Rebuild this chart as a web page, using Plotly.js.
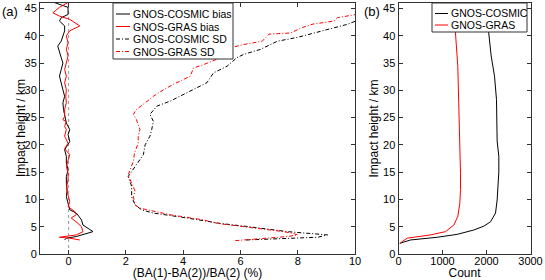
<!DOCTYPE html>
<html>
<head>
<meta charset="utf-8">
<script src="https://cdn.plot.ly/plotly-3.0.1.min.js"></script>
<style>html,body{margin:0;padding:0;background:#fff;}#chart{width:545px;height:280px;}</style>
</head>
<body>
<div id="chart"></div>
<script>
// ---- Data ----
// Panel (a): bias profiles, % vs impact height (km)
const biasCosmicHeight = [2.57,2.9,3.2,3.5,4.1,4.7,5.3,6.25,7.5,8.1,9.3,10.5,11.8,13.0,14.2,15.4,16.7,17.9,19.1,20.6,21.9,22.8,24.0,25.2,26.5,27.7,28.9,30.1,31.4,32.6,33.8,35.0,36.0,36.9,38.1,39.0,40.0,40.9,41.8,42.7,43.3,43.9,45.2,45.8,46.4];
const biasCosmic = [-0.14,-0.08,0.27,0.5,0.85,0.68,0.5,0.45,0.27,0.04,-0.02,-0.08,-0.05,-0.08,-0.08,-0.02,-0.08,-0.08,-0.14,0.04,-0.02,0.04,-0.08,-0.14,-0.18,-0.2,-0.14,-0.2,-0.26,-0.32,-0.26,-0.2,-0.26,-0.32,-0.38,-0.26,-0.2,-0.14,-0.14,-0.32,-0.26,-0.02,-0.02,-0.32,-0.67];

const biasGrasHeight = [2.57,2.9,3.07,3.3,3.5,4.1,5.0,5.6,6.6,7.2,7.8,8.7,9.6,10.8,12.1,13.6,14.8,16.1,17.0,18.2,19.3,20.3,21.6,22.8,23.4,24.3,24.6,25.2,26.5,27.7,28.9,30.1,31.4,32.6,33.8,35.0,36.3,37.5,38.7,40.0,40.9,41.8,43.0,43.6,44.2,45.2,46.1];
const biasGras = [0.39,0.04,-0.32,0.09,0.27,0.5,0.45,0.33,0.09,0.27,0.21,-0.02,0.04,-0.02,-0.08,-0.02,-0.02,-0.08,-0.02,0.04,-0.14,-0.02,-0.14,-0.08,-0.14,-0.08,-0.2,-0.14,-0.14,-0.08,-0.1,-0.08,-0.14,-0.08,-0.14,-0.08,-0.02,-0.08,-0.02,-0.08,0.04,0.39,0.04,-0.32,-0.55,-0.32,-0.02];

// Panel (a): standard deviation profiles
const sdCosmicHeight = [2.57,2.9,3.07,3.5,4.1,5.0,5.6,6.6,7.5,8.1,9.0,10.5,12.4,14.2,15.5,16.7,18.2,20.0,21.6,22.8,24.3,25.6,27.1,28.0,29.5,31.4,33.2,34.4,36.0,36.6,37.5,39.0,39.7,40.5,41.5,42.1,42.7];
const sdCosmic = [6.2,7.6,8.7,9.04,7.64,6.3,5.3,4.13,2.96,2.55,2.32,2.2,2.2,2.08,2.25,2.43,2.61,2.67,2.84,2.9,2.96,2.84,3.08,3.54,4.13,4.83,5.06,5.53,5.88,6.12,6.7,7.29,7.99,8.57,9.27,9.74,10.03];

const sdGrasHeight = [2.45,3.2,3.5,3.8,4.1,5.0,5.6,6.25,7.2,8.0,8.4,9.0,10.5,11.5,13.0,14.5,17.0,18.5,20.3,21.6,22.8,24.6,25.6,26.5,27.7,28.9,30.1,31.1,32.6,34.1,34.7,35.7,36.3,37.8,38.4,39.0,40.3,40.5,41.5,42.1,42.7,43.3,43.9];
const sdGras = [5.82,7.64,8.0,7.81,7.5,6.0,5.2,4.71,3.54,2.84,2.49,2.32,2.26,2.32,2.2,2.08,2.26,2.3,2.43,2.43,2.49,2.37,2.26,2.37,2.67,2.96,3.31,3.66,4.25,4.36,4.71,5.18,5.3,5.65,6.12,6.76,7.0,7.75,8.16,8.5,9.27,9.39,10.03];

// Panel (b): number of collocations
const countCosmicHeight = [1.96,2.57,3.07,3.6,4.4,5.1,5.9,7.5,9.9,11.8,15.0,17.9,20.7,28.3,32.6,36.3,40.0,43.0,46.1];
const countCosmic = [30,273,879,1333,1712,1939,2091,2205,2242,2257,2280,2280,2242,2227,2182,2106,2053,2015,1977];

const countGrasHeight = [1.96,2.9,3.5,4.1,5.3,6.9,9.3,11.8,14.8,21.0,28.3,34.4,40.5,46.1];
const countGras = [30,197,727,1068,1258,1348,1394,1409,1409,1394,1371,1348,1295,1235];

// Legend labels and titles
const legendA = ['GNOS-COSMIC bias','GNOS-GRAS bias','GNOS-COSMIC SD','GNOS-GRAS SD'];
const legendB = ['GNOS-COSMIC','GNOS-GRAS'];
const yTitle = 'Impact height / km';

// ---- Styling ----
const BLACK = '#000000', RED = '#ff0000';
const DASHDOT = '4px,2px,1px,2px';
const FONT = 'Liberation Sans, Arial, Helvetica, sans-serif';
const W = 545, TOP = 3, BOTTOM = 254;
const px = x => x / W;
const py = y => (BOTTOM - y) / (BOTTOM - TOP);

const traces = [
  {x: biasCosmic, y: biasCosmicHeight, mode:'lines', name: legendA[0], line:{color:BLACK, width:1}, xaxis:'x', yaxis:'y'},
  {x: biasGras, y: biasGrasHeight, mode:'lines', name: legendA[1], line:{color:RED, width:1}, xaxis:'x', yaxis:'y'},
  {x: sdCosmic, y: sdCosmicHeight, mode:'lines', name: legendA[2], line:{color:BLACK, width:1, dash:DASHDOT}, xaxis:'x', yaxis:'y'},
  {x: sdGras, y: sdGrasHeight, mode:'lines', name: legendA[3], line:{color:RED, width:1, dash:DASHDOT}, xaxis:'x', yaxis:'y'},
  {x: countCosmic, y: countCosmicHeight, mode:'lines', name: legendB[0], line:{color:BLACK, width:1}, xaxis:'x2', yaxis:'y2'},
  {x: countGras, y: countGrasHeight, mode:'lines', name: legendB[1], line:{color:RED, width:1}, xaxis:'x2', yaxis:'y2'}
];

const axisCommon = {
  showline:true, linecolor:'#333', linewidth:1, mirror:'ticks',
  ticks:'inside', ticklen:4, tickcolor:'#333', showgrid:false, zeroline:false,
  tickfont:{family:FONT, size:11, color:'#000'}
};

// Manual legend (box, samples, labels)
const shapes = [
  {type:'line', xref:'x', yref:'paper', x0:0, x1:0, y0:0, y1:1, line:{color:'#999', width:1, dash:'dot'}, layer:'below'},
  {type:'rect', xref:'paper', yref:'paper', x0:px(113), x1:px(233), y0:py(3), y1:py(59), line:{color:'#333', width:1}, fillcolor:'#fff'},
  {type:'rect', xref:'paper', yref:'paper', x0:px(432), x1:px(527), y0:py(3), y1:py(32), line:{color:'#333', width:1}, fillcolor:'#fff'}
];
const annotations = [];
const rowsA = [14, 26.5, 39, 51.5];
const stylesA = [[BLACK,'solid'],[RED,'solid'],[BLACK,DASHDOT],[RED,DASHDOT]];
legendA.forEach((t,i)=>{
  shapes.push({type:'line', xref:'paper', yref:'paper', x0:px(116), x1:px(130), y0:py(rowsA[i]), y1:py(rowsA[i]), line:{color:stylesA[i][0], width:1, dash:stylesA[i][1]}});
  annotations.push({text:t, xref:'paper', yref:'paper', x:px(130.5), y:py(rowsA[i]), xanchor:'left', yanchor:'middle', showarrow:false, font:{family:FONT, size:10.5, color:'#000'}});
});
const rowsB = [13.5, 25];
const colorsB = [BLACK, RED];
legendB.forEach((t,i)=>{
  shapes.push({type:'line', xref:'paper', yref:'paper', x0:px(435), x1:px(448), y0:py(rowsB[i]), y1:py(rowsB[i]), line:{color:colorsB[i], width:1}});
  annotations.push({text:t, xref:'paper', yref:'paper', x:px(448.5), y:py(rowsB[i]), xanchor:'left', yanchor:'middle', showarrow:false, font:{family:FONT, size:10.5, color:'#000'}});
});
annotations.push({text:'(a)', xref:'paper', yref:'paper', x:px(0), y:py(12), xanchor:'left', yanchor:'middle', showarrow:false, font:{family:FONT, size:13, color:'#000'}});
annotations.push({text:'(b)', xref:'paper', yref:'paper', x:px(362), y:py(12), xanchor:'left', yanchor:'middle', showarrow:false, font:{family:FONT, size:13, color:'#000'}});
// left y title placed closer to its tick labels than plotly's default allows
annotations.push({text:yTitle, xref:'paper', yref:'paper', x:px(20.5), y:0.5, xanchor:'center', yanchor:'middle', textangle:-90, showarrow:false, font:{family:FONT, size:12, color:'#000'}});

const layout = {
  width: 545, height: 280,
  margin: {l:0, r:0, t:TOP, b:280-BOTTOM},
  paper_bgcolor:'#fff', plot_bgcolor:'#fff',
  showlegend:false,
  font:{family:FONT, size:11, color:'#000'},
  xaxis: Object.assign({}, axisCommon, {domain:[px(40), px(355)], range:[-1,10], tickvals:[0,2,4,6,8,10], anchor:'y', ticklabelstandoff:-3,
    title:{text:'(BA(1)-BA(2))/BA(2) (%)', font:{family:FONT, size:12}, standoff:0}}),
  yaxis: Object.assign({}, axisCommon, {domain:[0,1], range:[0,46], tickvals:[0,5,10,15,20,25,30,35,40,45], anchor:'x'}),
  xaxis2: Object.assign({}, axisCommon, {domain:[px(398.5), px(530.5)], range:[0,3000], tickvals:[0,1000,2000,3000], anchor:'y2', ticklabelstandoff:-3,
    title:{text:'Count', font:{family:FONT, size:12}, standoff:0}}),
  yaxis2: Object.assign({}, axisCommon, {domain:[0,1], range:[0,46], tickvals:[0,5,10,15,20,25,30,35,40,45], anchor:'x2',
    title:{text:yTitle, font:{family:FONT, size:12}, standoff:1}}),
  shapes: shapes,
  annotations: annotations
};

Plotly.newPlot('chart', traces, layout, {staticPlot:true, displayModeBar:false});
</script>
</body>
</html>
